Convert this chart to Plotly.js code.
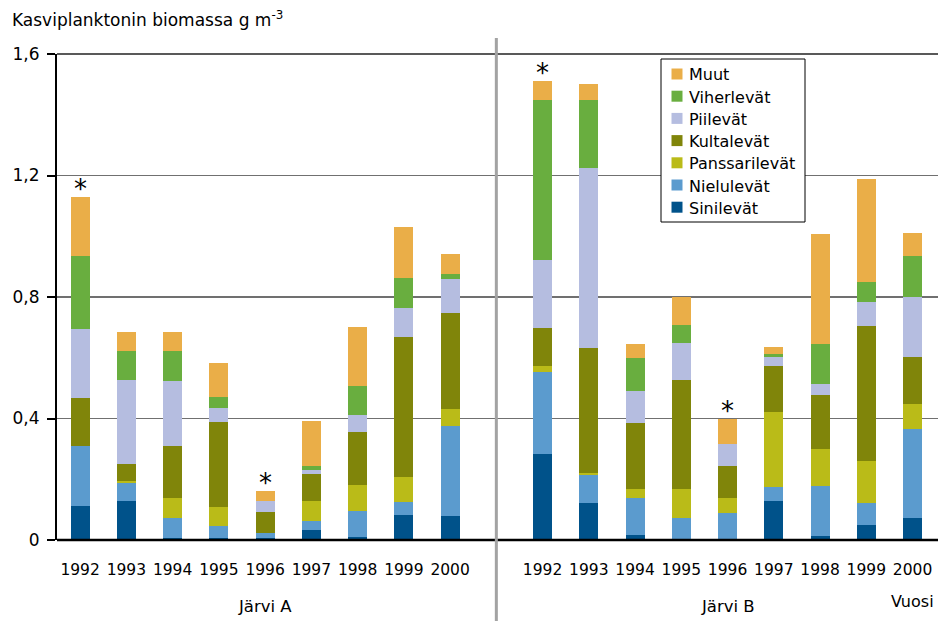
<!DOCTYPE html>
<html>
<head>
<meta charset="utf-8">
<script src="https://cdn.plot.ly/plotly-3.0.1.min.js"></script>
<style>
html,body{margin:0;padding:0;background:#fff;}
#chart{width:938px;height:621px;}
</style>
</head>
<body>
<div id="chart"></div>
<script>
// Years and lakes
const years = ['1992','1993','1994','1995','1996','1997','1998','1999','2000'];
const lakes = ['Järvi A', 'Järvi B'];

// Biomass values (g m-3), 9 years of Järvi A followed by 9 years of Järvi B
const sinilevat      = [0.111,0.128,0.007,0.007,0.007,0.033,0.010,0.082,0.079,  0.282,0.121,0.016,0.003,0.000,0.128,0.013,0.049,0.072];
const nielulevat     = [0.200,0.059,0.065,0.039,0.016,0.029,0.085,0.043,0.295,  0.272,0.092,0.122,0.069,0.089,0.046,0.164,0.072,0.295];
const panssarilevat  = [0.000,0.006,0.066,0.062,0.000,0.066,0.085,0.082,0.056,  0.020,0.007,0.029,0.095,0.049,0.249,0.121,0.138,0.082];
const kultalevat     = [0.158,0.056,0.173,0.282,0.069,0.088,0.177,0.462,0.318,  0.124,0.413,0.217,0.361,0.105,0.151,0.181,0.446,0.154];
const piilevat       = [0.226,0.279,0.214,0.043,0.036,0.014,0.056,0.095,0.111,  0.223,0.593,0.105,0.121,0.072,0.029,0.036,0.079,0.197];
const viherlevat     = [0.239,0.095,0.098,0.039,0.000,0.013,0.095,0.098,0.016,  0.528,0.223,0.111,0.059,0.000,0.010,0.131,0.065,0.134];
const muut           = [0.194,0.062,0.062,0.112,0.033,0.150,0.194,0.168,0.066,  0.062,0.053,0.046,0.092,0.085,0.023,0.361,0.338,0.076];

// Bars marked with an asterisk (lake index, year)
const starred = [[0,'1992'],[0,'1996'],[1,'1992'],[1,'1996']];

const yTickVals = [0, 0.4, 0.8, 1.2, 1.6];
const yTickText = ['0', '0,4', '0,8', '1,2', '1,6'];

// ---- build ----
const FONT = '"DejaVu Sans", "Open Sans", sans-serif';
const W = 938, H = 621, ML = 57, MR = 0, MT = 54, MB = 81;
const PW = W - ML - MR, PH = H - MT - MB;
const px2x = p => (p - ML) / PW;          // pixel -> paper x
const px2y = p => (H - MB - p) / PH;      // pixel -> paper y

const nY = years.length;
const xPos = [];
const xLab = [];
lakes.forEach((lk, li) => years.forEach((y, yi) => { xPos.push(li * (nY + 1) + yi); xLab.push(y); }));

const series = [
  {name:'Sinilevät', v:sinilevat, c:'#00528A'},
  {name:'Nielulevät', v:nielulevat, c:'#5B9BCE'},
  {name:'Panssarilevät', v:panssarilevat, c:'#BABB18'},
  {name:'Kultalevät', v:kultalevat, c:'#80850A'},
  {name:'Piilevät', v:piilevat, c:'#B5BDE0'},
  {name:'Viherlevät', v:viherlevat, c:'#69AE3F'},
  {name:'Muut', v:muut, c:'#EAAE48'}
];

const traces = series.map(s => ({
  type:'bar', name:s.name, x:xPos, y:s.v,
  marker:{color:s.c, line:{width:0}},
  hoverinfo:'name+y', showlegend:false
}));

const totals = xPos.map((_, i) => series.reduce((a, s) => a + s.v[i], 0));

const annotations = [];
const shapes = [];
annotations.push({
  xref:'paper', yref:'paper', x:px2x(10), y:px2y(19), xanchor:'left', yanchor:'middle',
  text:'Kasviplanktonin biomassa g m<sup>-3</sup>', showarrow:false,
  font:{family:FONT, size:17, color:'#000'}
});
lakes.forEach((lk, li) => {
  annotations.push({
    xref:'x', yref:'paper', x: li * (nY + 1) + (nY - 1) / 2, y:px2y(606), yanchor:'middle',
    text:lk, showarrow:false, font:{family:FONT, size:16.5, color:'#000'}
  });
});
annotations.push({
  xref:'x', yref:'paper', x: (lakes.length - 1) * (nY + 1) + nY - 1, y:px2y(601), yanchor:'middle',
  text:'Vuosi', showarrow:false, font:{family:FONT, size:16, color:'#000'}
});
starred.forEach(([li, y]) => {
  const i = li * nY + years.indexOf(y);
  annotations.push({
    xref:'x', yref:'y', x:xPos[i], y:totals[i], yanchor:'bottom', yshift:-9,
    text:'*', showarrow:false, font:{family:'DejaVu Sans, sans-serif', size:26, color:'#000'}
  });
});

// Legend (drawn as a boxed key, top entry = top of stack)
const legL = 661, legR = 805, legT = 59, legB = 222;
shapes.push({type:'rect', xref:'paper', yref:'paper', x0:px2x(legL), x1:px2x(legR), y0:px2y(legB), y1:px2y(legT),
  line:{color:'#000', width:1}, fillcolor:'#fff', layer:'above'});
series.slice().reverse().forEach((s, k) => {
  const cy = 74 + k * 22.2;
  shapes.push({type:'rect', xref:'paper', yref:'paper', x0:px2x(671.5), x1:px2x(682.5), y0:px2y(cy + 5.5), y1:px2y(cy - 5.5),
    line:{width:0}, fillcolor:s.c, layer:'above'});
  annotations.push({xref:'paper', yref:'paper', x:px2x(687), y:px2y(cy + 1), xanchor:'left', yanchor:'middle',
    text:s.name, showarrow:false, font:{family:FONT, size:16, color:'#000'}});
});

const divX = nY; // gap between the two lakes
shapes.push({type:'line', xref:'paper', yref:'paper', x0:0, x1:1, y0:1, y1:1, line:{color:'#222', width:1.5}, layer:'below'});
shapes.push({type:'line', xref:'paper', yref:'paper', x0:0, x1:1, y0:0, y1:0, line:{color:'#000', width:2.5}});
shapes.push({type:'line', xref:'x', yref:'paper', x0:divX, x1:divX, y0:px2y(621), y1:px2y(38), line:{color:'#a3a3a3', width:3}});

const layout = {
  width:W, height:H,
  margin:{l:ML, r:MR, t:MT, b:MB},
  paper_bgcolor:'#fff', plot_bgcolor:'#fff',
  barmode:'stack', bargap:0.59,
  font:{family:FONT, size:16, color:'#000'},
  xaxis:{
    range:[-0.5, 18.55], tickmode:'array', tickvals:xPos, ticktext:xLab,
    showgrid:false, zeroline:false, showline:false, ticks:'',
    ticklabelstandoff:18, tickfont:{family:FONT, size:15.5, color:'#000'}
  },
  yaxis:{
    range:[0, 1.6], tickmode:'array', tickvals:yTickVals, ticktext:yTickText,
    showgrid:true, gridcolor:'#707070', gridwidth:1.5,
    zeroline:false, showline:true, linecolor:'#000', linewidth:2,
    ticks:'outside', ticklen:8, tickwidth:2, tickcolor:'#000',
    ticklabelstandoff:4,
    tickfont:{family:FONT, size:17, color:'#000'}
  },
  shapes:shapes,
  annotations:annotations,
  showlegend:false
};

Plotly.newPlot('chart', traces, layout, {staticPlot:true, displayModeBar:false});
</script>
</body>
</html>
